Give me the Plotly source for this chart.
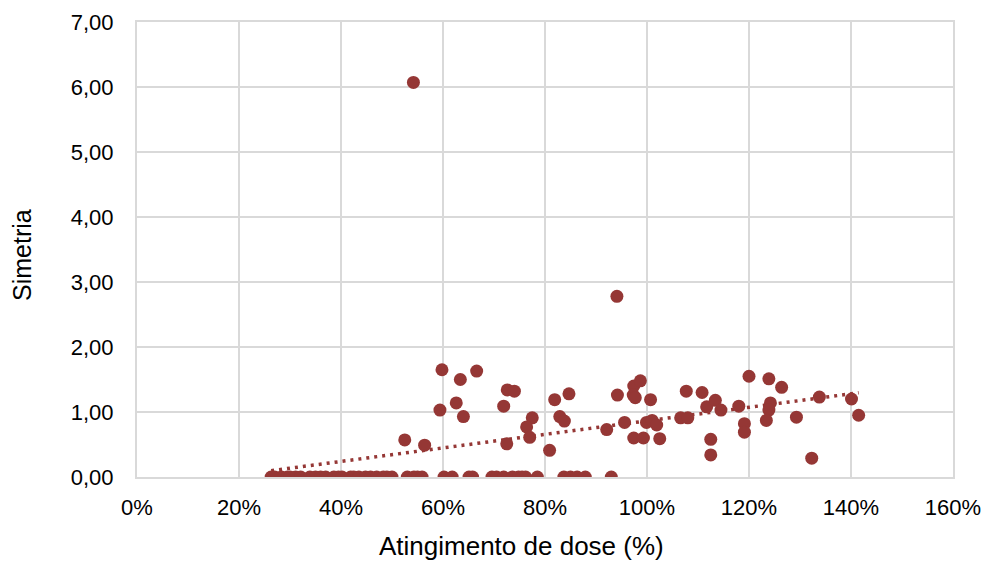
import numpy as np
import plotly.graph_objects as go

# dose attainment (%) and symmetry
dose_zero = [
    26.3, 27.0, 28.3, 29.5, 30.0, 31.1, 32.1, 33.9, 35.0, 36.0, 37.0, 38.6,
    39.5, 40.2, 41.9, 42.5, 43.5, 44.8, 45.8, 47.0, 48.3, 49.0, 50.0, 53.0,
    54.3, 55.0, 55.9, 60.2, 61.8, 65.1, 65.8, 69.6, 70.5, 71.9, 73.6, 74.8,
    75.5, 76.2, 78.5, 83.7, 85.0, 86.3, 87.9, 93.0,
]
dose_pos = [
    54.2, 94.1,
    59.8, 63.4, 66.6, 59.4, 62.6, 64.0, 52.5, 56.4,
    71.9, 72.6, 74.0, 72.5, 77.5, 76.4, 77.0, 80.9, 81.9, 84.7, 82.9, 83.8,
    92.1, 94.2, 95.6, 97.4, 98.7, 97.3, 97.7, 100.7, 97.4, 99.3, 102.5,
    99.9, 101.0, 101.9, 106.6, 108.0, 107.7, 110.8, 111.7, 113.4, 114.5,
    112.5, 112.5, 118.0, 120.0, 119.1, 119.1, 123.9, 126.4, 124.2, 123.9,
    123.4, 129.3, 132.3, 133.8, 140.1, 141.5,
]
sym_pos = [
    6.07, 2.78,
    1.65, 1.50, 1.63, 1.03, 1.14, 0.93, 0.57, 0.49,
    1.09, 1.34, 1.32, 0.51, 0.91, 0.77, 0.61, 0.41, 1.19, 1.28, 0.93, 0.86,
    0.73, 1.26, 0.84, 1.40, 1.48, 1.26, 1.22, 1.19, 0.60, 0.60, 0.59,
    0.84, 0.87, 0.80, 0.91, 0.91, 1.32, 1.30, 1.08, 1.18, 1.03,
    0.58, 0.34, 1.09, 1.55, 0.82, 0.69, 1.51, 1.38, 1.14, 1.03,
    0.87, 0.92, 0.29, 1.23, 1.20, 0.95,
]

x = np.array(dose_zero + dose_pos) / 100.0
y = np.array([0.0] * len(dose_zero) + sym_pos)

# linear trendline over the data range
slope, intercept = np.polyfit(x, y, 1)
trend_x = np.array([x.min(), x.max()])
trend_y = slope * trend_x + intercept

RED = "#953735"
GRID = "#d9d9d9"
FONT = "Liberation Sans, Arial, sans-serif"

fig = go.Figure()
fig.add_trace(go.Scatter(
    x=trend_x, y=trend_y, mode="lines",
    line=dict(color=RED, width=3.5, dash="3px,5px"),
    showlegend=False,
))
fig.add_trace(go.Scatter(
    x=x, y=y, mode="markers",
    marker=dict(size=13, color=RED, line=dict(width=0)),
    showlegend=False,
))

# the page body adds 8px around the figure
fig.update_layout(
    width=986, height=560,
    margin=dict(l=128.5, r=41.3, t=13.7, b=91.3),
    paper_bgcolor="white", plot_bgcolor="white",
    separators=",.",
    font=dict(family=FONT, size=22, color="black"),
)
fig.update_xaxes(
    range=[0, 1.6], dtick=0.2, tickformat=".0%", automargin=False,
    showgrid=True, gridcolor=GRID, gridwidth=2,
    zeroline=False, showline=True, linecolor=GRID, linewidth=2, mirror=True,
    ticks="outside", ticklen=10, tickcolor="rgba(0,0,0,0)",
)
fig.update_yaxes(
    range=[0, 7], dtick=1, tickformat=".2f", automargin=False,
    showgrid=True, gridcolor=GRID, gridwidth=2,
    zeroline=False, showline=True, linecolor=GRID, linewidth=2, mirror=True,
    ticks="outside", ticklen=17, tickcolor="rgba(0,0,0,0)",
)

# axis titles sit slightly off-centre in the original
fig.add_annotation(
    text="Atingimento de dose (%)", xref="paper", yref="paper",
    x=0.471, y=-0.152, xanchor="center", yanchor="middle",
    showarrow=False, font=dict(size=26),
)
fig.add_annotation(
    text="Simetria", xref="paper", yref="paper",
    x=-0.1403, y=0.487, xanchor="center", yanchor="middle",
    textangle=-90, showarrow=False, font=dict(size=25),
)

fig.write_html("out.html")
